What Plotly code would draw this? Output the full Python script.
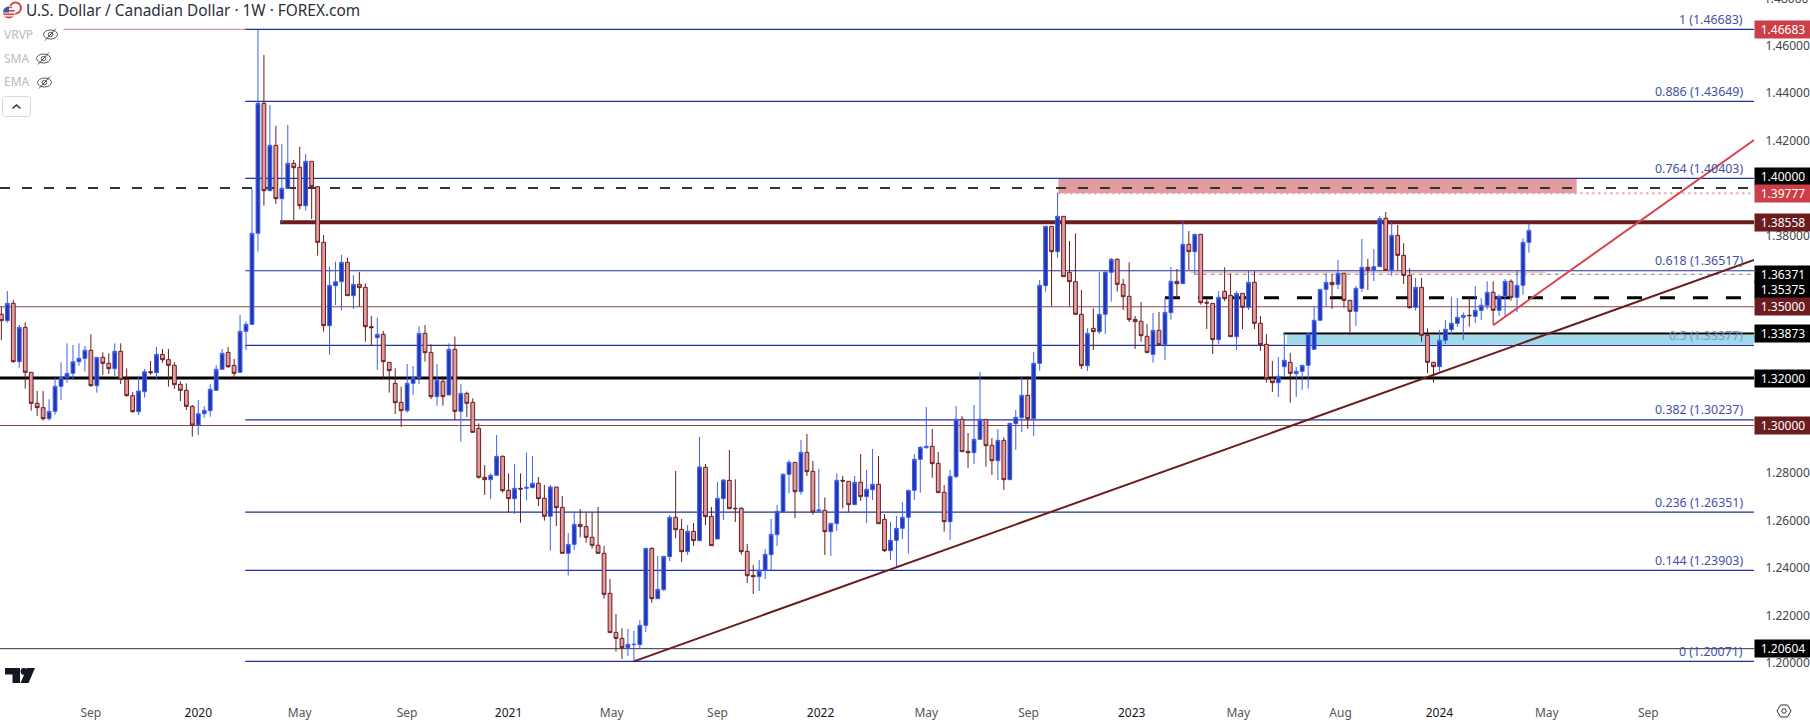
import base64

import pandas as pd
import plotly.graph_objects as go

# weekly USD/CAD candles
opens = [
    1.34682, 1.34415, 1.35145, 1.32689, 1.34135, 1.32240, 1.30934, 1.30752, 1.30289, 1.30597,
    1.31650, 1.32015, 1.32197, 1.32689, 1.32829, 1.33166, 1.31678, 1.32871, 1.32619, 1.32394,
    1.33124, 1.31945, 1.31257, 1.30583, 1.31426, 1.32268, 1.32226, 1.32997, 1.32773, 1.32534,
    1.31734, 1.31482, 1.30808, 1.30022,
    1.30499, 1.30626, 1.31482, 1.32366, 1.33082, 1.32534, 1.32240, 1.33966, 1.34261, 1.38093,
    1.43566, 1.39889, 1.41798, 1.39552, 1.39987, 1.41040, 1.40871, 1.39257, 1.41124, 1.40057,
    1.37713, 1.34205, 1.35889, 1.36057, 1.36871, 1.35468, 1.35945, 1.35819, 1.34163, 1.33699,
    1.33840, 1.32661, 1.31776, 1.30976, 1.30626, 1.31776, 1.32015, 1.33882, 1.33082, 1.31215,
    1.31861,
    1.31285, 1.33208, 1.30597, 1.31355, 1.30976, 1.29882, 1.27819, 1.27720, 1.27903, 1.28703,
    1.27271, 1.26920, 1.27355, 1.27355, 1.27383, 1.27566, 1.26934, 1.26177, 1.27411, 1.26555,
    1.24619, 1.24997, 1.25840, 1.25742, 1.25292, 1.24956, 1.24619, 1.22934, 1.21292, 1.21039,
    1.20647, 1.20773, 1.20773, 1.21587, 1.24829, 1.22710, 1.23089, 1.24478, 1.26134, 1.25629,
    1.24689, 1.25545, 1.25152, 1.28240, 1.26177, 1.25222, 1.26920, 1.27692, 1.26513, 1.26513,
    1.24703, 1.23692, 1.23636, 1.23917, 1.24562, 1.25405, 1.26359, 1.27945, 1.28450, 1.27215,
    1.28871, 1.28071, 1.26401, 1.26429, 1.25531, 1.25868, 1.27692, 1.27650, 1.26668, 1.27608,
    1.27005, 1.27299, 1.27524, 1.26050,
    1.24731, 1.25166, 1.25671, 1.26134, 1.27271, 1.28576, 1.29068, 1.29124, 1.28408, 1.27187,
    1.25952, 1.27847, 1.30261, 1.28913, 1.28857, 1.29418, 1.30261, 1.29166, 1.28520, 1.29376,
    1.27720, 1.30078, 1.30331, 1.31271, 1.30289,
    1.32618, 1.35889, 1.38387, 1.37320, 1.38808, 1.36450, 1.36057,
    1.34682, 1.32520, 1.34092, 1.33952, 1.34682, 1.36450, 1.36998, 1.35945, 1.35440, 1.34471,
    1.34387, 1.33756, 1.32997, 1.34008, 1.33405, 1.34752, 1.36071, 1.35973, 1.37629, 1.37320,
    1.38050, 1.35187, 1.35145, 1.33615, 1.35650, 1.35482, 1.33741, 1.35566, 1.34977, 1.36029,
    1.34303, 1.33419, 1.31987, 1.31805, 1.32478, 1.32661, 1.32183,
    1.32282, 1.32534, 1.33208, 1.34429, 1.35734, 1.36029, 1.35945, 1.36408, 1.35271, 1.34808,
    1.35776, 1.36661, 1.36549, 1.36689, 1.38724, 1.36549, 1.38008, 1.37166, 1.36324, 1.34977,
    1.35819, 1.33798, 1.32661, 1.32478, 1.33587, 1.34036, 1.34303, 1.34555, 1.34640, 1.34598,
    1.34850, 1.35061, 1.35608, 1.34850, 1.35440, 1.36071, 1.35398, 1.35903, 1.37713,
]
highs = [
    1.34995, 1.35664, 1.35285, 1.34233, 1.34345, 1.32240, 1.31454, 1.31454, 1.31103, 1.32015,
    1.32661, 1.33461, 1.33390, 1.33461, 1.33348, 1.33840, 1.32885, 1.33082, 1.33040, 1.33461,
    1.33461, 1.32408, 1.31397, 1.32085, 1.32380, 1.32717, 1.33306, 1.33222, 1.33222, 1.32661,
    1.31861, 1.31776, 1.30864, 1.31075,
    1.30822, 1.31748, 1.32548, 1.33222, 1.33306, 1.32801, 1.34654, 1.34387, 1.39959, 1.46682,
    1.45601, 1.43496, 1.42612, 1.41854, 1.42654, 1.41180, 1.41742, 1.41433, 1.41124, 1.40057,
    1.38022, 1.36689, 1.36899, 1.37180, 1.37068, 1.36338, 1.36464, 1.35987, 1.34612, 1.34541,
    1.33980, 1.32661, 1.32408, 1.31636, 1.32590, 1.32506, 1.34191, 1.34233, 1.33419, 1.32590,
    1.32057,
    1.33461, 1.33750, 1.31748, 1.31425, 1.31145, 1.30092, 1.28338, 1.27987, 1.29601, 1.28745,
    1.27987, 1.28380, 1.27987, 1.28857, 1.28717, 1.27833, 1.27496, 1.27496, 1.27411, 1.27032,
    1.25475, 1.26345, 1.26485, 1.26345, 1.26345, 1.26570, 1.24927, 1.23538, 1.22064, 1.21461,
    1.21433, 1.21348, 1.21812, 1.24829, 1.24871, 1.24506, 1.24492, 1.26232, 1.28085, 1.26064,
    1.25811, 1.25896, 1.29517, 1.28380, 1.26570, 1.27622, 1.27748, 1.28970, 1.27734, 1.26570,
    1.25012, 1.24127, 1.24338, 1.24787, 1.26064, 1.26654, 1.27987, 1.28548, 1.28450, 1.29390,
    1.29643, 1.28506, 1.28170, 1.26976, 1.25882, 1.27987, 1.27875, 1.27650, 1.27875, 1.28801,
    1.28127, 1.29012, 1.28717, 1.26275,
    1.25938, 1.26190, 1.26780, 1.27271, 1.28801, 1.29124, 1.30780, 1.29854, 1.28885, 1.27496,
    1.28127, 1.30822, 1.30401, 1.29685, 1.30864, 1.32254, 1.30261, 1.29475, 1.29854, 1.29503,
    1.30092, 1.30654, 1.32071, 1.32071, 1.33096,
    1.36127, 1.38387, 1.38387, 1.39805, 1.38808, 1.37769, 1.38092,
    1.35706, 1.34092, 1.34934, 1.36464, 1.36464, 1.37054, 1.37040, 1.36170, 1.36871, 1.34612,
    1.35201, 1.34275, 1.34738, 1.34780, 1.35355, 1.36675, 1.36590, 1.38612, 1.38190, 1.38050,
    1.38050, 1.35355, 1.35145, 1.35664, 1.36661, 1.36408, 1.35650, 1.35566, 1.36548, 1.36506,
    1.34612, 1.33854, 1.32717, 1.32885, 1.33910, 1.33053, 1.32464,
    1.32534, 1.33924, 1.35033, 1.35734, 1.36422, 1.36366, 1.36970, 1.36408, 1.35271, 1.35875,
    1.37854, 1.37012, 1.37433, 1.38822, 1.38991, 1.38570, 1.38443, 1.37671, 1.36619, 1.36212,
    1.36212, 1.34092, 1.32661, 1.34022, 1.34443, 1.35426, 1.35370, 1.34766, 1.35454, 1.35875,
    1.35370, 1.36071, 1.36071, 1.35524, 1.36170, 1.36155, 1.36534, 1.37882, 1.38513,
]
lows = [
    1.33601, 1.34331, 1.32646, 1.32436, 1.31552, 1.30626, 1.30401, 1.30204, 1.30204, 1.30457,
    1.31075, 1.31804, 1.31917, 1.32520, 1.32268, 1.31636, 1.31383, 1.32127, 1.32169, 1.32085,
    1.31748, 1.31215, 1.30541, 1.30443, 1.31173, 1.32127, 1.31917, 1.32647, 1.31636, 1.31538,
    1.31032, 1.30654, 1.29531, 1.29601,
    1.30331, 1.30373, 1.31482, 1.32366, 1.32422, 1.32029, 1.32240, 1.33180, 1.34261, 1.37320,
    1.39257, 1.39889, 1.39328, 1.38541, 1.39987, 1.38654, 1.39103, 1.39047, 1.38696, 1.37152,
    1.33952, 1.32980, 1.35075, 1.34865, 1.35468, 1.34907, 1.35005, 1.33531, 1.33363, 1.32338,
    1.31945, 1.31383, 1.30485, 1.29952, 1.30541, 1.31285, 1.31748, 1.32689, 1.31117, 1.30836,
    1.30836,
    1.31285, 1.30233, 1.29320, 1.30359, 1.29713, 1.27762, 1.27075, 1.26906, 1.27903, 1.27173,
    1.26331, 1.26275, 1.25910, 1.26864, 1.27383, 1.26612, 1.25994, 1.24731, 1.25769, 1.24619,
    1.23678, 1.24759, 1.25292, 1.25068, 1.24815, 1.24619, 1.22710, 1.21278, 1.20478, 1.20170,
    1.20296, 1.20071, 1.20605, 1.21306, 1.22541, 1.22710, 1.23033, 1.24296, 1.25250, 1.24254,
    1.24548, 1.24927, 1.25152, 1.25797, 1.24941, 1.25222, 1.26022, 1.26499, 1.25938, 1.24562,
    1.23369, 1.22906, 1.23033, 1.23538, 1.23903, 1.24927, 1.26359, 1.27145, 1.26106, 1.27089,
    1.27875, 1.26247, 1.26331, 1.24548, 1.24506, 1.25559, 1.26513, 1.26345, 1.26668, 1.26822,
    1.25896, 1.26864, 1.25868, 1.24675,
    1.24337, 1.24029, 1.25222, 1.24604, 1.26864, 1.27173, 1.29026, 1.27804, 1.27173, 1.25530,
    1.25180, 1.27790, 1.28899, 1.28211, 1.28380, 1.29418, 1.28268, 1.27917, 1.27706, 1.27285,
    1.27720, 1.28970, 1.29727, 1.29868, 1.29559,
    1.32310, 1.35636, 1.35019, 1.37068, 1.36268, 1.35019, 1.34682,
    1.32380, 1.32296, 1.33180, 1.33854, 1.33854, 1.35215, 1.35636, 1.34864, 1.34359, 1.33222,
    1.33531, 1.33026, 1.32647, 1.33405, 1.32759, 1.34457, 1.35355, 1.35973, 1.36548, 1.36352,
    1.35089, 1.34064, 1.33012, 1.33433, 1.35243, 1.33741, 1.33180, 1.34064, 1.34864, 1.34064,
    1.33138, 1.31805, 1.31412, 1.31201, 1.32043, 1.30963, 1.31201,
    1.31496, 1.31552, 1.33208, 1.34429, 1.35005, 1.34906, 1.35748, 1.34962, 1.33826, 1.34191,
    1.35622, 1.35706, 1.36085, 1.36689, 1.36535, 1.36296, 1.36549, 1.35959, 1.34920, 1.34836,
    1.33531, 1.32212, 1.31805, 1.32268, 1.33433, 1.33854, 1.34148, 1.33601, 1.34162, 1.34317,
    1.34443, 1.34892, 1.34233, 1.34612, 1.34555, 1.35257, 1.34780, 1.35510, 1.37278,
]
closes = [
    1.34415, 1.35145, 1.32689, 1.34135, 1.32240, 1.30934, 1.30752, 1.30289, 1.30597, 1.31650,
    1.32015, 1.32197, 1.32689, 1.32829, 1.33166, 1.31678, 1.32871, 1.32619, 1.32394, 1.33124,
    1.31945, 1.31257, 1.30583, 1.31454, 1.32268, 1.32226, 1.32997, 1.32773, 1.32534, 1.31720,
    1.31482, 1.30808, 1.30022, 1.30499,
    1.30640, 1.31524, 1.32366, 1.33040, 1.32478, 1.32197, 1.33966, 1.34261, 1.38093, 1.43566,
    1.39889, 1.41798, 1.39552, 1.39987, 1.41040, 1.40857, 1.39257, 1.41124, 1.40057, 1.37713,
    1.34205, 1.35903, 1.36057, 1.36871, 1.35468, 1.35945, 1.35805, 1.34163, 1.34121, 1.33840,
    1.32689, 1.32310, 1.30962, 1.30626, 1.31776, 1.32015, 1.33882, 1.33068, 1.31215, 1.31917,
    1.31215,
    1.33208, 1.30597, 1.31355, 1.30934, 1.29713, 1.27819, 1.27720, 1.27903, 1.28703, 1.27257,
    1.26920, 1.27355, 1.27327, 1.27397, 1.27566, 1.26920, 1.26177, 1.27411, 1.26541, 1.24619,
    1.24997, 1.25840, 1.25742, 1.25292, 1.24956, 1.24619, 1.22892, 1.21278, 1.21039, 1.20647,
    1.20787, 1.20787, 1.21587, 1.24829, 1.22710, 1.23103, 1.24492, 1.26134, 1.25615, 1.24689,
    1.25545, 1.25152, 1.28254, 1.26162, 1.24941, 1.26934, 1.27706, 1.26499, 1.26499, 1.24689,
    1.23678, 1.23636, 1.23903, 1.24576, 1.25419, 1.26387, 1.27945, 1.28450, 1.27215, 1.28871,
    1.28057, 1.26359, 1.26443, 1.25531, 1.25882, 1.27692, 1.27664, 1.26668, 1.27608, 1.27005,
    1.27313, 1.27524, 1.25868, 1.24731,
    1.25166, 1.25671, 1.26134, 1.27271, 1.28576, 1.29082, 1.29124, 1.28394, 1.27173, 1.25952,
    1.27861, 1.30261, 1.28899, 1.28857, 1.29418, 1.30261, 1.29152, 1.28520, 1.29376, 1.27720,
    1.30092, 1.30345, 1.31271, 1.30289, 1.32619,
    1.35903, 1.38387, 1.37320, 1.38808, 1.36268, 1.36057, 1.34682,
    1.32520, 1.33882, 1.33952, 1.34682, 1.36464, 1.36998, 1.35945, 1.35426, 1.34457, 1.34373,
    1.33784, 1.33082, 1.34008, 1.33405, 1.34766, 1.36071, 1.35973, 1.37629, 1.37320, 1.38050,
    1.35173, 1.35159, 1.33615, 1.35398, 1.35342, 1.33741, 1.35566, 1.34977, 1.36029, 1.34303,
    1.33405, 1.31973, 1.31805, 1.32071, 1.32745, 1.32197, 1.32282,
    1.32534, 1.33854, 1.34429, 1.35734, 1.36029, 1.35931, 1.36408, 1.35271, 1.34808, 1.35776,
    1.36661, 1.36563, 1.36689, 1.38710, 1.36535, 1.38008, 1.37166, 1.36324, 1.34962, 1.35819,
    1.33798, 1.32661, 1.32478, 1.33587, 1.34050, 1.34303, 1.34555, 1.34640, 1.34626, 1.34850,
    1.35061, 1.35608, 1.34850, 1.35440, 1.36071, 1.35398, 1.35903, 1.37713, 1.38219,
]
assert len(opens) == len(highs) == len(lows) == len(closes) == 257
dates = pd.date_range("2019-05-20", periods=len(opens), freq="7D")

x_start = "2019-05-18 09:36"
x_end = "2025-01-04"

# fibonacci retracement
fib_ratios = ["1", "0.886", "0.764", "0.618", "0.5", "0.382", "0.236", "0.144", "0"]
fib_prices = [1.46683, 1.43649, 1.40403, 1.36517, 1.33377, 1.30237, 1.26351, 1.23903, 1.20071]
fib_start = "2020-03-01"
fib_text_colors = ["#3f51a8"] * 4 + ["#7d9bc4"] + ["#3f51a8"] * 4

# horizontal levels: price, start, end, colour, width, dash
level_prices = [1.46683, 1.40000, 1.39777, 1.38558, 1.36460, 1.36371, 1.35375, 1.35000, 1.33873, 1.32000, 1.30000, 1.20604]
level_starts = [
    "2019-08-01", x_start, "2022-10-11", "2020-04-11", "2023-03-15", "2023-03-20",
    "2023-02-13", x_start, "2023-07-02", x_start, x_start, x_start,
]
level_ends = [
    fib_start, x_end, x_end, x_end, "2024-05-05", x_end,
    "2024-12-20", x_end, x_end, x_end, x_end, x_end,
]
level_colors = [
    "#d47a78", "#333333", "#e29ca0", "#6b1c1f", "#e29ca0", "#808080",
    "#000000", "#8a4347", "#000000", "#000000", "#8a4347", "#333333",
]
level_widths = [1, 2, 2, 4, 1, 1, 3, 1, 2, 3, 1, 1]
level_dashes = [
    "solid", "10px,12px", "2px,4px", "solid", "solid", "4px,4px",
    "15px,18px", "solid", "solid", "solid", "solid", "solid",
]

# price tags on the right axis
tag_prices = [1.46683, 1.40000, 1.39777, 1.38558, 1.36371, 1.35375, 1.35000, 1.33873, 1.32000, 1.30000, 1.20604]
tag_colors = ["#cc3f47", "#000000", "#cc3f47", "#6b1c1f", "#000000", "#000000", "#6b1c1f", "#000000", "#000000", "#6b1c1f", "#000000"]
tag_shifts = [0, 12, 0, 0, 0, 8, 0, 0, 0, 0, 0]

# the other round prices sit hidden behind the tags
y_ticks = [1.20, 1.22, 1.24, 1.26, 1.28, 1.38, 1.42, 1.44, 1.46]

x_tick_dates = [
    "2019-09-02", "2020-01-06", "2020-05-04", "2020-09-07", "2021-01-04", "2021-05-05", "2021-09-06",
    "2022-01-05", "2022-05-09", "2022-09-06", "2023-01-05", "2023-05-10", "2023-09-07", "2024-01-01",
    "2024-05-06", "2024-09-02",
]
x_tick_labels = ["Sep", "2020", "May", "Sep", "2021", "May", "Sep", "2022", "May", "Sep", "2023", "May", "Aug", "2024", "May", "Sep"]
x_tick_text = [f"<span style='color:#131722'>{t}</span>" if t.isdigit() else t for t in x_tick_labels]

# trendlines
maroon_x = ["2021-05-31", x_end]
maroon_y = [1.20071, 1.36969]
red_x = ["2024-03-04", x_end]
red_y = [1.34220, 1.42022]

FONT = "Noto Sans"
PLOT_W = 1754
PLOT_H = 692


def svg_image(svg, left, top, w, h):
    src = "data:image/svg+xml;base64," + base64.b64encode(svg.encode()).decode()
    return dict(
        source=src, xref="paper", yref="paper", x=left / PLOT_W, y=1 - top / PLOT_H,
        sizex=w / PLOT_W, sizey=h / PLOT_H, xanchor="left", yanchor="top", layer="above",
    )


def svg(w, h, body):
    return f'<svg xmlns="http://www.w3.org/2000/svg" width="{w}" height="{h}" viewBox="0 0 {w} {h}">{body}</svg>'


eye = svg(15, 13, '<ellipse cx="7.5" cy="6.5" rx="7" ry="4.5" fill="none" stroke="#555" stroke-width="1"/>'
                  '<circle cx="7.5" cy="6.5" r="2.2" fill="none" stroke="#555"/>'
                  '<line x1="2" y1="12.5" x2="13" y2="0.5" stroke="#555" stroke-width="1"/>')
flag = svg(20, 20, '<defs><clipPath id="a"><circle cx="7" cy="11.5" r="6"/></clipPath></defs>'
                   '<circle cx="13.5" cy="7" r="5.5" fill="#fff" stroke="#d8453f" stroke-width="2"/>'
                   '<circle cx="7" cy="11.5" r="6.5" fill="#fff"/>'
                   '<g clip-path="url(#a)"><rect x="0" y="5" width="14" height="13" fill="#f3f3f3"/>'
                   '<rect x="0" y="5.5" width="14" height="1.6" fill="#d8453f"/>'
                   '<rect x="0" y="9" width="14" height="1.6" fill="#d8453f"/>'
                   '<rect x="0" y="12.5" width="14" height="1.6" fill="#d8453f"/>'
                   '<rect x="0" y="15.5" width="14" height="2.5" fill="#d8453f"/>'
                   '<rect x="0" y="5" width="7" height="6.5" fill="#3d5aa8"/></g>')
chevron = svg(29, 21, '<rect x="0.5" y="0.5" width="28" height="20" rx="3" fill="#fff" stroke="#d6d8de"/>'
                      '<polyline points="10.5,12.5 14.5,9 18.5,12.5" fill="none" stroke="#333" stroke-width="1.5"/>')
logo = svg(30, 15, '<path d="M0 0H15V15H7.5V6.5H0Z" fill="#131722"/><circle cx="19" cy="3.4" r="3.4" fill="#131722"/>'
                   '<path d="M30 0L23.5 15H15.5L22 0Z" fill="#131722"/>')
gear = svg(16, 14, '<polygon points="4.5,1 11.5,1 15,7 11.5,13 4.5,13 1,7" fill="none" stroke="#333" stroke-width="1"/>'
                   '<circle cx="8" cy="7" r="2.2" fill="none" stroke="#333"/>')

# resistance zone and support zone go under the level lines
shapes = [
    dict(type="rect", layer="below", xref="x", yref="y", x0="2022-10-11", x1="2024-06-10", y0=1.39777, y1=1.40403,
         fillcolor="#e29ca0", line_width=0),
    dict(type="rect", layer="below", xref="x", yref="y", x0="2023-07-06", x1=x_end, y0=1.3343, y1=1.3382,
         fillcolor="#a1dae8", line_width=0),
]
for price in fib_prices:
    shapes.append(dict(type="line", layer="below", xref="x", yref="y", x0=fib_start, x1=x_end, y0=price, y1=price,
                       line=dict(color="#1f3399", width=1.2)))
for price, start, end, color, width, dash in zip(level_prices, level_starts, level_ends, level_colors, level_widths, level_dashes):
    shapes.append(dict(type="line", layer="below", xref="x", yref="y", x0=start, x1=end, y0=price, y1=price,
                       line=dict(color=color, width=width, dash=dash)))

annotations = [
    dict(text="U.S. Dollar / Canadian Dollar · 1W · FOREX.com", xref="paper", yref="paper", x=24 / PLOT_W, y=1 - 10 / PLOT_H,
         xanchor="left", yanchor="middle", showarrow=False, font=dict(family=FONT, size=15.4, color="#2a2e39")),
    dict(text="1.48000", xref="paper", yref="paper", x=1, xshift=8, y=1, yshift=2, xanchor="left", yanchor="middle",
         showarrow=False, font=dict(family=FONT, size=12, color="#444444")),
]
for label, top in zip(["VRVP", "SMA", "EMA"], [34, 59, 82]):
    annotations.append(dict(text=label, xref="paper", yref="paper", x=2 / PLOT_W, y=1 - top / PLOT_H, xanchor="left",
                            yanchor="middle", showarrow=False, font=dict(family=FONT, size=12, color="#b8bbc4")))
for ratio, price, color in zip(fib_ratios, fib_prices, fib_text_colors):
    annotations.append(dict(text=f"{ratio} ({price:.5f})", xref="paper", x=1, xshift=-9, yref="y", y=price, yshift=10,
                            xanchor="right", yanchor="middle", showarrow=False, font=dict(family=FONT, size=12.4, color=color)))
for price, color, shift in zip(tag_prices, tag_colors, tag_shifts):
    annotations.append(dict(text=f"{price:.5f}", xref="paper", x=1, yref="y", y=price, yshift=shift, xanchor="left",
                            yanchor="middle", width=56, height=17, bgcolor=color, borderpad=0, align="center",
                            showarrow=False, font=dict(family=FONT, size=12, color="#ffffff")))

fig = go.Figure()
fig.add_trace(go.Candlestick(
    x=dates, open=opens, high=highs, low=lows, close=closes, whiskerwidth=0,
    increasing=dict(line=dict(color="#3f60f2", width=1), fillcolor="#2236ad"),
    decreasing=dict(line=dict(color="#6b1c1f", width=1), fillcolor="#e29ca0"),
    showlegend=False, hoverinfo="skip",
))
fig.add_trace(go.Scatter(x=maroon_x, y=maroon_y, mode="lines", line=dict(color="#6b1c1f", width=2), showlegend=False, hoverinfo="skip"))
fig.add_trace(go.Scatter(x=red_x, y=red_y, mode="lines", line=dict(color="#d9444b", width=2), showlegend=False, hoverinfo="skip"))

fig.update_layout(
    width=1810, height=722,
    margin=dict(l=0, r=56, t=0, b=30),
    paper_bgcolor="#ffffff", plot_bgcolor="#ffffff",
    boxgap=0.3, boxgroupgap=0.1,
    shapes=shapes, annotations=annotations,
    images=[
        svg_image(flag, 2, 1, 20, 20),
        svg_image(eye, 43, 28, 15, 13),
        svg_image(eye, 36, 52, 15, 13),
        svg_image(eye, 37, 76, 15, 13),
        svg_image(chevron, 2, 96, 29, 21),
        svg_image(logo, 5, 668, 30, 15),
        svg_image(gear, 1776, 704, 16, 14),
    ],
    xaxis=dict(
        type="date", range=[x_start, x_end], rangeslider=dict(visible=False), showgrid=False, zeroline=False,
        showline=False, ticks="outside", ticklen=10, tickcolor="rgba(0,0,0,0)", tickmode="array",
        tickvals=x_tick_dates, ticktext=x_tick_text, tickangle=0,
        tickfont=dict(family=FONT, size=12, color="#555555"),
    ),
    yaxis=dict(
        side="right", range=[1.18780, 1.47917], showgrid=False, zeroline=False, showline=False,
        tickmode="array", tickvals=y_ticks, tickformat=".5f", ticks="outside", ticklen=8, tickcolor="rgba(0,0,0,0)",
        tickfont=dict(family=FONT, size=12, color="#444444"),
    ),
)

fig.write_html("out.html", config=dict(displayModeBar=False),
               post_script="document.body.style.margin='0';document.body.style.overflow='hidden';")
